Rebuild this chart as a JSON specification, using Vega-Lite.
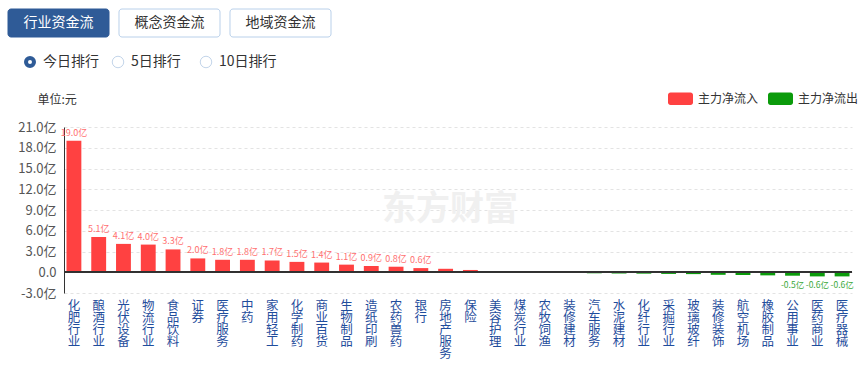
{
  "$schema": "https://vega.github.io/schema/vega-lite/v6.json",
  "background": "#ffffff",
  "padding": {"left": 7, "top": 8, "right": 0, "bottom": 0},
  "spacing": 12,
  "resolve": {"scale": {"color": "independent"}, "legend": {"color": "independent"}},
  "config": {
    "view": {"stroke": null},
    "font": "Noto Sans CJK SC",
    "axisY": {
      "title": "单位:元", "titleAngle": 0, "titleAlign": "left", "titleBaseline": "middle",
      "titleX": -27, "titleY": -28, "titleFontSize": 12, "titleFontWeight": "normal", "titleColor": "#333333",
      "labelFontSize": 13, "labelColor": "#555555", "labelPadding": 8, "labelOverlap": false,
      "ticks": false, "domainColor": "#333333",
      "grid": true, "gridDash": [3, 3], "gridColor": "#e3e3e3",
      "minExtent": 56
    }
  },
  "vconcat": [
    {
      "width": 267,
      "height": 28,
      "data": {"values": [{"b": "行业资金流"}, {"b": "概念资金流"}, {"b": "地域资金流"}]},
      "encoding": {
        "x": {"field": "b", "type": "nominal", "sort": null, "axis": null, "scale": {"range": [-56, 267], "paddingInner": 0.09, "paddingOuter": 0}}
      },
      "layer": [
        {
          "mark": {"type": "rect", "cornerRadius": 3, "strokeWidth": 1},
          "encoding": {
            "fill": {"condition": {"test": "datum.b === '行业资金流'", "value": "#2f5b97"}, "value": "#ffffff"},
            "stroke": {"condition": {"test": "datum.b === '行业资金流'", "value": "#2f5b97"}, "value": "#b9d0ea"}
          }
        },
        {
          "mark": {"type": "text", "fontSize": 14, "baseline": "middle", "align": "center"},
          "encoding": {
            "text": {"field": "b"},
            "color": {"condition": {"test": "datum.b === '行业资金流'", "value": "#ffffff"}, "value": "#333333"}
          }
        }
      ]
    },
    {
      "width": 160,
      "height": 16,
      "data": {"values": [{"r": "今日排行"}, {"r": "5日排行"}, {"r": "10日排行"}]},
      "encoding": {
        "x": {"field": "r", "type": "nominal", "sort": null, "axis": null, "scale": {"type": "point", "range": [-34, 142], "padding": 0}}
      },
      "layer": [
        {
          "mark": {"type": "point", "shape": "circle", "filled": true, "fill": "#ffffff", "opacity": 1},
          "encoding": {
            "size": {"condition": {"test": "datum.r === '今日排行'", "value": 64}, "value": 132},
            "strokeWidth": {"condition": {"test": "datum.r === '今日排行'", "value": 4}, "value": 1},
            "stroke": {"condition": {"test": "datum.r === '今日排行'", "value": "#2f5b97"}, "value": "#c3d5ea"}
          }
        },
        {
          "mark": {"type": "text", "fontSize": 14, "align": "left", "baseline": "middle", "dx": 13, "color": "#333333"},
          "encoding": {"text": {"field": "r"}}
        }
      ]
    },
    {
      "width": 788,
      "height": 166,
      "data": {
        "values": [
          {"name": "化肥行业", "v": 19.0, "flow": "主力净流入"},
          {"name": "酿酒行业", "v": 5.1, "flow": "主力净流入"},
          {"name": "光伏设备", "v": 4.1, "flow": "主力净流入"},
          {"name": "物流行业", "v": 4.0, "flow": "主力净流入"},
          {"name": "食品饮料", "v": 3.3, "flow": "主力净流入"},
          {"name": "证券", "v": 2.0, "flow": "主力净流入"},
          {"name": "医疗服务", "v": 1.8, "flow": "主力净流入"},
          {"name": "中药", "v": 1.8, "flow": "主力净流入"},
          {"name": "家用轻工", "v": 1.7, "flow": "主力净流入"},
          {"name": "化学制药", "v": 1.5, "flow": "主力净流入"},
          {"name": "商业百货", "v": 1.4, "flow": "主力净流入"},
          {"name": "生物制品", "v": 1.1, "flow": "主力净流入"},
          {"name": "造纸印刷", "v": 0.9, "flow": "主力净流入"},
          {"name": "农药兽药", "v": 0.8, "flow": "主力净流入"},
          {"name": "银行", "v": 0.6, "flow": "主力净流入"},
          {"name": "房地产服务", "v": 0.5, "flow": "主力净流入"},
          {"name": "保险", "v": 0.33, "flow": "主力净流入"},
          {"name": "美容护理", "v": 0.16, "flow": "主力净流入"},
          {"name": "煤炭行业", "v": 0.02, "flow": "主力净流入"},
          {"name": "农牧饲渔", "v": -0.03, "flow": "主力净流出"},
          {"name": "装修建材", "v": -0.05, "flow": "主力净流出"},
          {"name": "汽车服务", "v": -0.15, "flow": "主力净流出"},
          {"name": "水泥建材", "v": -0.18, "flow": "主力净流出"},
          {"name": "化纤行业", "v": -0.2, "flow": "主力净流出"},
          {"name": "采掘行业", "v": -0.24, "flow": "主力净流出"},
          {"name": "玻璃玻纤", "v": -0.27, "flow": "主力净流出"},
          {"name": "装修装饰", "v": -0.37, "flow": "主力净流出"},
          {"name": "航空机场", "v": -0.4, "flow": "主力净流出"},
          {"name": "橡胶制品", "v": -0.45, "flow": "主力净流出"},
          {"name": "公用事业", "v": -0.5, "flow": "主力净流出"},
          {"name": "医药商业", "v": -0.6, "flow": "主力净流出"},
          {"name": "医疗器械", "v": -0.6, "flow": "主力净流出"}
        ]
      },
      "layer": [
        {
          "mark": {"type": "bar"},
          "encoding": {
            "x": {
              "field": "name", "type": "nominal", "sort": null,
              "scale": {"paddingInner": 0.4, "paddingOuter": 0.1},
              "axis": {
                "title": null, "domain": false, "ticks": false, "grid": false,
                "labelAngle": 0, "labelAlign": "center", "labelBaseline": "top",
                "labelPadding": 6, "labelFontSize": 12.5, "labelLineHeight": 12,
                "labelColor": "#1f4d9c", "labelOverlap": false,
                "labelExpr": "split(datum.label, '')"
              }
            },
            "y": {
              "field": "v", "type": "quantitative",
              "scale": {"domain": [-3, 21], "nice": false, "zero": false},
              "axis": {
                "title": "单位:元",
                "values": [-3, 0, 3, 6, 9, 12, 15, 18, 21],
                "labelExpr": "datum.value === 0 ? '0.0' : (datum.value < 0 ? '-' : '') + format(abs(datum.value), '.1f') + '亿'"
              }
            },
            "color": {
              "field": "flow", "type": "nominal",
              "scale": {"domain": ["主力净流入", "主力净流出"], "range": ["#ff4141", "#0b9b0b"]},
              "legend": {
                "orient": "none", "legendX": 604, "legendY": -41, "direction": "horizontal",
                "title": null, "padding": 0,
                "symbolType": "M-0.8,-0.5H0.8A0.2,0.2 0 0 1 1,-0.3V0.3A0.2,0.2 0 0 1 0.8,0.5H-0.8A0.2,0.2 0 0 1 -1,0.3V-0.3A0.2,0.2 0 0 1 -0.8,-0.5Z",
                "symbolSize": 625, "symbolStrokeWidth": 0, "symbolOpacity": 1,
                "labelFontSize": 12, "labelColor": "#333333", "labelOffset": 5, "columnPadding": 9
              }
            }
          }
        },
        {
          "data": {"values": [{"w": "东方财富"}]},
          "mark": {"type": "text", "fontSize": 34, "fontWeight": "bold", "color": "#f0f0f0", "dx": -8, "baseline": "middle"},
          "encoding": {
            "text": {"field": "w"},
            "y": {
              "datum": 9, "type": "quantitative",
              "axis": {
                "title": "单位:元",
                "values": [-3, 0, 3, 6, 9, 12, 15, 18, 21],
                "labelExpr": "datum.value === 0 ? '0.0' : (datum.value < 0 ? '-' : '') + format(abs(datum.value), '.1f') + '亿'"
              }
            }
          }
        },
        {
          "mark": {"type": "rule", "color": "#333333", "strokeWidth": 1},
          "encoding": {
            "y": {
              "datum": 0, "type": "quantitative",
              "axis": {
                "title": "单位:元",
                "values": [-3, 0, 3, 6, 9, 12, 15, 18, 21],
                "labelExpr": "datum.value === 0 ? '0.0' : (datum.value < 0 ? '-' : '') + format(abs(datum.value), '.1f') + '亿'"
              }
            }
          }
        },
        {
          "mark": {
            "type": "text", "fontSize": 9, "baseline": "alphabetic", "dy": -5, "color": "#ff7070",
            "text": {"expr": "datum.v >= 0.6 ? format(datum.v, '.1f') + '亿' : ''"}
          },
          "encoding": {
            "x": {"field": "name", "type": "nominal", "sort": null},
            "y": {
              "field": "v", "type": "quantitative",
              "axis": {
                "title": "单位:元",
                "values": [-3, 0, 3, 6, 9, 12, 15, 18, 21],
                "labelExpr": "datum.value === 0 ? '0.0' : (datum.value < 0 ? '-' : '') + format(abs(datum.value), '.1f') + '亿'"
              }
            }
          }
        },
        {
          "mark": {
            "type": "text", "fontSize": 8.5, "baseline": "top", "dy": 5, "color": "#3aa83a",
            "text": {"expr": "datum.v <= -0.5 ? '-' + format(-datum.v, '.1f') + '亿' : ''"}
          },
          "encoding": {
            "x": {"field": "name", "type": "nominal", "sort": null},
            "y": {
              "field": "v", "type": "quantitative",
              "axis": {
                "title": "单位:元",
                "values": [-3, 0, 3, 6, 9, 12, 15, 18, 21],
                "labelExpr": "datum.value === 0 ? '0.0' : (datum.value < 0 ? '-' : '') + format(abs(datum.value), '.1f') + '亿'"
              }
            }
          }
        }
      ]
    }
  ]
}
